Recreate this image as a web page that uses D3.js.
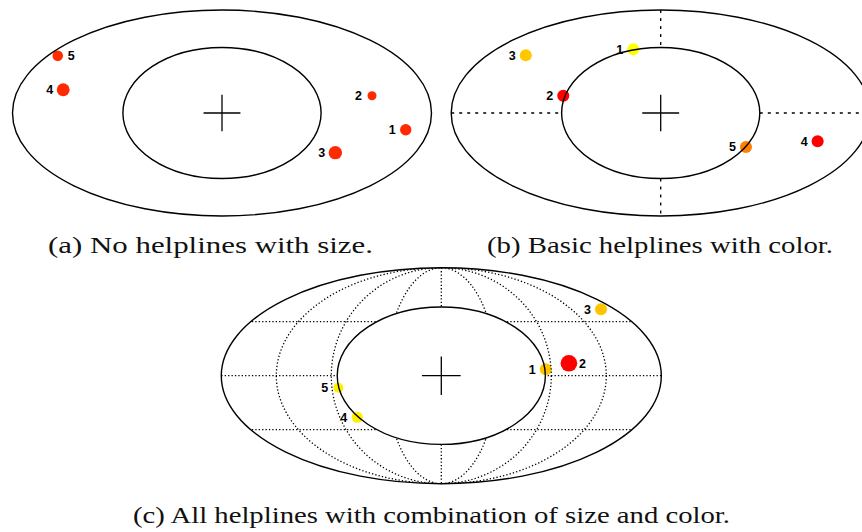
<!DOCTYPE html>
<html>
<head>
<meta charset="utf-8">
<script src="https://cdn.jsdelivr.net/npm/d3@7"></script>
<style>
  body { margin: 0; background: #fff; }
  svg { display: block; }
</style>
</head>
<body>
<svg id="chart" width="862" height="532"></svg>
<script>
// Point positions in ellipse units (x: -1..1 across, y: -1..1 upward),
// magnitude drives the marker size.

// (a) No helplines, size encoding
const idsA   = ["1", "2", "3", "4", "5"];
const xA     = [0.877, 0.716, 0.541, -0.758, -0.784];
const yA     = [-0.162, 0.168, -0.385, 0.226, 0.556];
const magA   = [0.67, 0.53, 0.79, 0.76, 0.62];
const colA   = ["#ff2a00", "#ff2a00", "#ff2a00", "#ff2a00", "#ff2a00"];
const sideA  = ["left", "left", "left", "left", "right"];

// (b) Basic helplines, colour encoding
const idsB   = ["1", "2", "3", "4", "5"];
const xB     = [-0.131, -0.465, -0.644, 0.749, 0.407];
const yB     = [0.618, 0.168, 0.560, -0.275, -0.330];
const magB   = [0.71, 0.71, 0.71, 0.71, 0.71];
const colB   = ["#ffff00", "#ff0000", "#ffc800", "#ff0000", "#ff8000"];
const sideB  = ["left", "left", "left", "left", "left"];

// (c) All helplines, size and colour combined
const idsC   = ["1", "2", "3", "4", "5"];
const xC     = [0.475, 0.580, 0.726, -0.382, -0.468];
const yC     = [0.059, 0.115, 0.615, -0.385, -0.111];
const magC   = [0.71, 0.98, 0.71, 0.65, 0.59];
const colC   = ["#ffc400", "#ff0000", "#ffc400", "#fff000", "#fff000"];
const sideC  = ["left", "right", "left", "left", "left"];

const captions = [
  "(a) No helplines with size.",
  "(b) Basic helplines with color.",
  "(c) All helplines with combination of size and color."
];

// Guide geometry in ellipse units
const innerRx = 0.473, innerRy = 0.636;
const crossX = 0.088, crossY = 0.178;
const meridians = [0.25, 0.5, 0.75];
const parallels = [-0.5, 0, 0.5];

const svg = d3.select("#chart");
const defs = svg.append("defs");
const rScale = d3.scaleLinear().domain([0, 1]).range([0, 8.5]);

const zip = (ids, xs, ys, mags, cols, sides) =>
  ids.map((id, i) => ({ id, x: xs[i], y: ys[i], m: mags[i], c: cols[i], side: sides[i] }));

const panels = [
  { key: "a", cx: 222, cy: 113, rx: 209.5, ry: 103, guides: "none",
    pts: zip(idsA, xA, yA, magA, colA, sideA),
    cap: captions[0], capX: 210.5, capY: 252.5, capW: 325 },
  { key: "b", cx: 660.7, cy: 113, rx: 209.5, ry: 103, guides: "basic",
    pts: zip(idsB, xB, yB, magB, colB, sideB),
    cap: captions[1], capX: 660, capY: 252.5, capW: 346 },
  { key: "c", cx: 441.3, cy: 375.7, rx: 220, ry: 108, guides: "all",
    pts: zip(idsC, xC, yC, magC, colC, sideC),
    cap: captions[2], capX: 431.5, capY: 522.5, capW: 597 }
];

panels.forEach(p => {
  const x = d3.scaleLinear().domain([-1, 1]).range([p.cx - p.rx, p.cx + p.rx]);
  const y = d3.scaleLinear().domain([-1, 1]).range([p.cy + p.ry, p.cy - p.ry]);
  const sx = v => x(v) - x(0);      // horizontal length
  const sy = v => y(0) - y(v);      // vertical length
  const g = svg.append("g").attr("class", "panel-" + p.key);

  // markers
  g.selectAll("circle.pt").data(p.pts).join("circle")
    .attr("class", "pt")
    .attr("cx", d => x(d.x)).attr("cy", d => y(d.y))
    .attr("r", d => rScale(d.m))
    .attr("fill", d => d.c);

  g.selectAll("text.lbl").data(p.pts).join("text")
    .attr("class", "lbl")
    .attr("x", d => x(d.x) + (d.side === "left" ? -13.5 : 13.5))
    .attr("y", d => y(d.y) + 0.5)
    .attr("text-anchor", "middle")
    .attr("dominant-baseline", "central")
    .attr("font-family", "'Liberation Sans', Arial, sans-serif")
    .attr("font-weight", "bold")
    .attr("font-size", 12.5)
    .attr("fill", "#000")
    .text(d => d.id);

  // helplines
  if (p.guides === "basic") {
    const segs = [
      [0, 1, 0, innerRy], [0, -innerRy, 0, -1],
      [-1, 0, -innerRx, 0], [innerRx, 0, 1, 0]
    ];
    g.selectAll("line.guide").data(segs).join("line")
      .attr("class", "guide")
      .attr("x1", d => x(d[0])).attr("y1", d => y(d[1]))
      .attr("x2", d => x(d[2])).attr("y2", d => y(d[3]))
      .attr("stroke", "#000").attr("stroke-width", 1.3)
      .attr("stroke-dasharray", "3,5");
  }

  if (p.guides === "all") {
    const mask = defs.append("mask").attr("id", "ring-" + p.key)
      .attr("maskUnits", "userSpaceOnUse")
      .attr("x", 0).attr("y", 0).attr("width", 862).attr("height", 532);
    mask.append("ellipse").attr("cx", x(0)).attr("cy", y(0))
      .attr("rx", sx(1)).attr("ry", sy(1)).attr("fill", "#fff");
    mask.append("ellipse").attr("cx", x(0)).attr("cy", y(0))
      .attr("rx", sx(innerRx)).attr("ry", sy(innerRy)).attr("fill", "#000");

    const gg = g.append("g").attr("mask", "url(#ring-" + p.key + ")")
      .attr("fill", "none").attr("stroke", "#000")
      .attr("stroke-width", 1.3).attr("stroke-dasharray", "1.3,2.1");

    gg.selectAll("ellipse.mer").data(meridians).join("ellipse")
      .attr("class", "mer")
      .attr("cx", x(0)).attr("cy", y(0))
      .attr("rx", d => sx(d)).attr("ry", sy(1));
    gg.append("line")
      .attr("x1", x(0)).attr("x2", x(0)).attr("y1", y(1)).attr("y2", y(-1));
    gg.selectAll("line.par").data(parallels).join("line")
      .attr("class", "par")
      .attr("x1", x(-1)).attr("x2", x(1))
      .attr("y1", d => y(d)).attr("y2", d => y(d));
  }

  // rings and centre cross
  g.append("ellipse")
    .attr("cx", x(0)).attr("cy", y(0)).attr("rx", sx(1)).attr("ry", sy(1))
    .attr("fill", "none").attr("stroke", "#000").attr("stroke-width", 1.4);
  g.append("ellipse")
    .attr("cx", x(0)).attr("cy", y(0)).attr("rx", sx(innerRx)).attr("ry", sy(innerRy))
    .attr("fill", "none").attr("stroke", "#000").attr("stroke-width", 1.4);
  g.append("line")
    .attr("x1", x(-crossX)).attr("x2", x(crossX)).attr("y1", y(0)).attr("y2", y(0))
    .attr("stroke", "#000").attr("stroke-width", 1.3);
  g.append("line")
    .attr("x1", x(0)).attr("x2", x(0)).attr("y1", y(crossY)).attr("y2", y(-crossY))
    .attr("stroke", "#000").attr("stroke-width", 1.3);

  // caption
  svg.append("text")
    .attr("x", p.capX).attr("y", p.capY)
    .attr("text-anchor", "middle")
    .attr("font-family", "'Liberation Serif', 'Times New Roman', serif")
    .attr("font-size", 23.5)
    .attr("textLength", p.capW)
    .attr("lengthAdjust", "spacingAndGlyphs")
    .attr("fill", "#111")
    .text(p.cap);
});
</script>
</body>
</html>
